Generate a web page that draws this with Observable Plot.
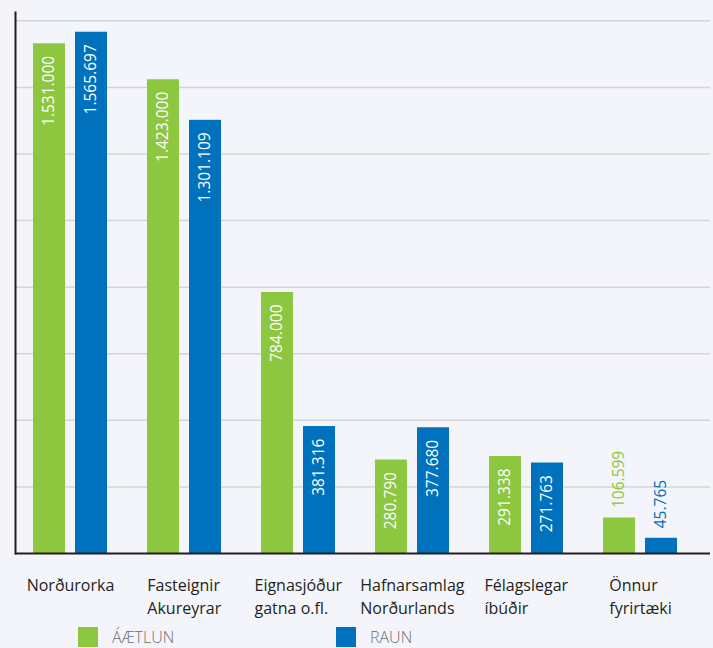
<!DOCTYPE html>
<html><head><meta charset="utf-8">
<script src="https://cdn.jsdelivr.net/npm/d3@7"></script>
<script src="https://cdn.jsdelivr.net/npm/@observablehq/plot@0.6"></script>
<style>
body{margin:0;background:#f4f5fa;font-family:"Open Sans",sans-serif;}
#legend{display:flex;padding-left:78px;margin-top:7px;height:20px}
.item{display:flex;align-items:center;width:258px;height:20px;font-size:16px;line-height:20px;color:#6d6e71;font-weight:300}
.sw{width:20px;height:20px;margin-right:14px;flex:none}
</style></head><body>
<div id="chart"></div><div id="legend"></div>
<script>
const categories = ["Norðurorka","Fasteignir\nAkureyrar","Eignasjóður\ngatna o.fl.","Hafnarsamlag\nNorðurlands","Félagslegar\níbúðir","Önnur\nfyrirtæki"];
const aaetlun = [1531000, 1423000, 784000, 280790, 291338, 106599];
const raun = [1565697, 1301109, 381316, 377680, 271763, 45765];
const seriesNames = ["ÁÆTLUN", "RAUN"];
const seriesColors = ["#8dc63f", "#0071bc"];
const yTicks = [200000, 400000, 600000, 800000, 1000000, 1200000, 1400000, 1600000];

const data = categories.map((c, i) => ({cat: c, a: aaetlun[i], r: raun[i]}));
const loc = d3.formatLocale({decimal: ",", thousands: ".", grouping: [3], currency: ["", ""]});
const fmt = loc.format(",d");
const threshold = 150000;

const chart = Plot.plot({
  width: 713, height: 620,
  marginTop: 12, marginLeft: 15, marginRight: 3, marginBottom: 67,
  style: {background: "transparent", fontFamily: "Open Sans", fontSize: "15px", color: "#231f20"},
  x: {type: "band", domain: categories, paddingInner: 0.351, paddingOuter: 0.2237, align: 0.353, label: null},
  y: {domain: [0, 1625000], axis: null},
  marks: [
    Plot.gridY(yTicks, {stroke: "#d3d4d9", strokeOpacity: 1, strokeWidth: 1.5}),
    Plot.barY(data, {x: "cat", y: "a", fill: seriesColors[0], insetRight: 42}),
    Plot.barY(data, {x: "cat", y: "r", fill: seriesColors[1], insetLeft: 42}),
    Plot.text(data.filter(d => d.a >= threshold), {x: "cat", y: "a", text: d => fmt(d.a), rotate: -90, textAnchor: "end", dx: -21, dy: 12, fill: "white", fontSize: 15.5}),
    Plot.text(data.filter(d => d.r >= threshold), {x: "cat", y: "r", text: d => fmt(d.r), rotate: -90, textAnchor: "end", dx: 21, dy: 12, fill: "white", fontSize: 15.5}),
    Plot.text(data.filter(d => d.a < threshold), {x: "cat", y: "a", text: d => fmt(d.a), rotate: -90, textAnchor: "start", dx: -21, dy: -10, fill: seriesColors[0], fontSize: 15.5}),
    Plot.text(data.filter(d => d.r < threshold), {x: "cat", y: "r", text: d => fmt(d.r), rotate: -90, textAnchor: "start", dx: 21, dy: -10, fill: seriesColors[1], fontSize: 15.5}),
    Plot.ruleY([0], {stroke: "#231f20", strokeWidth: 2}),
    Plot.frame({anchor: "left", stroke: "#231f20", strokeWidth: 2}),
    Plot.axisX({tickSize: 0, tickPadding: 22, lineHeight: 1.4, fill: "#231f20", fontSize: 16})
  ]
});
document.getElementById("chart").appendChild(chart);

// left-align lines of each x label while keeping the block centred on its band
chart.querySelectorAll('g[aria-label="x-axis tick label"] text').forEach(t => {
  t.setAttribute("text-anchor", "start");
  const w = t.getBBox().width;
  const tr = t.getAttribute("transform") || "";
  t.setAttribute("transform", tr + ` translate(${-w / 2},0)`);
});

const legend = document.getElementById("legend");
seriesNames.forEach((n, i) => {
  const item = document.createElement("div");
  item.className = "item";
  const sw = document.createElement("div");
  sw.className = "sw";
  sw.style.background = seriesColors[i];
  const label = document.createElement("span");
  label.textContent = n;
  item.appendChild(sw);
  item.appendChild(label);
  legend.appendChild(item);
});
</script>
</body></html>
